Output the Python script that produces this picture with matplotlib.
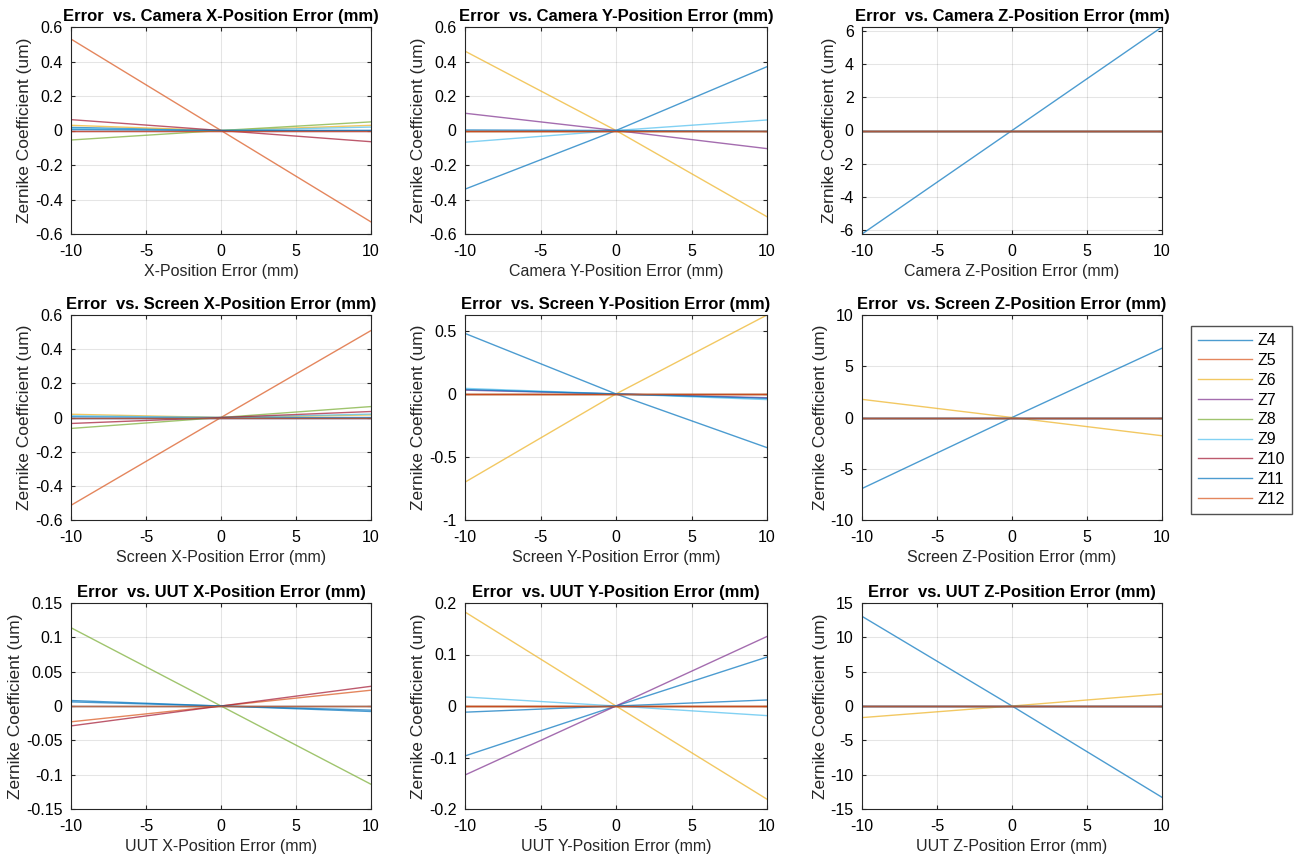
import matplotlib
matplotlib.use("Agg")
import matplotlib.pyplot as plt
import numpy as np
from matplotlib.ticker import FuncFormatter

plt.rcParams["font.family"] = ["Liberation Sans", "DejaVu Sans"]
plt.rcParams["axes.unicode_minus"] = False

# position error sweep (mm)
x = [-10, 0, 10]
names = ["Z4", "Z5", "Z6", "Z7", "Z8", "Z9", "Z10", "Z11", "Z12"]

# coefficient (um) at x = -10 and x = +10, order Z4..Z12 (all pass through 0 at x = 0)
cam_x_lo = [0.018, 0.53, 0.03, 0.0, -0.055, 0.012, 0.063, 0.005, 0.0]
cam_x_hi = [0.0, -0.53, 0.03, 0.0, 0.05, 0.02, -0.065, 0.0, 0.0]
cam_y_lo = [-0.34, 0.0, 0.46, 0.10, 0.0, -0.068, 0.0, 0.003, 0.0]
cam_y_hi = [0.37, 0.0, -0.50, -0.105, 0.0, 0.061, 0.0, -0.005, 0.0]
cam_z_lo = [-6.25, 0.0, 0.0, 0.0, 0.0, 0.0, 0.0, 0.0, 0.0]
cam_z_hi = [6.25, 0.0, 0.0, 0.0, 0.0, 0.0, 0.0, 0.0, 0.0]
scr_x_lo = [0.005, -0.514, 0.019, 0.0, -0.064, 0.01, -0.035, 0.0, 0.0]
scr_x_hi = [0.0, 0.509, 0.015, 0.0, 0.064, 0.02, 0.035, 0.0, 0.0]
scr_y_lo = [0.48, 0.0, -0.70, 0.03, 0.0, 0.044, 0.0, 0.035, 0.0]
scr_y_hi = [-0.426, 0.0, 0.626, -0.03, 0.0, -0.045, 0.0, -0.035, 0.0]
scr_z_lo = [-6.93, 0.0, 1.77, 0.0, 0.0, 0.0, 0.0, 0.0, 0.0]
scr_z_hi = [6.76, 0.0, -1.78, 0.0, 0.0, 0.0, 0.0, 0.0, 0.0]
uut_x_lo = [0.008, -0.023, 0.0, 0.0, 0.114, 0.0, -0.029, 0.006, 0.0]
uut_x_hi = [-0.008, 0.023, 0.0, 0.0, -0.114, 0.0, 0.0287, -0.006, 0.0]
uut_y_lo = [-0.097, 0.0, 0.1825, -0.134, 0.0, 0.0175, 0.0, -0.012, 0.0]
uut_y_hi = [0.095, 0.0, -0.181, 0.135, 0.0, -0.0187, 0.0, 0.0117, 0.0]
uut_z_lo = [13.06, 0.0, -1.69, 0.0, 0.0, 0.0, 0.0, 0.0, 0.0]
uut_z_hi = [-13.3, 0.0, 1.75, 0.0, 0.0, 0.0, 0.0, 0.0, 0.0]

titles = ["Error  vs. Camera X-Position Error (mm)", "Error  vs. Camera Y-Position Error (mm)",
          "Error  vs. Camera Z-Position Error (mm)", "Error  vs. Screen X-Position Error (mm)",
          "Error  vs. Screen Y-Position Error (mm)", "Error  vs. Screen Z-Position Error (mm)",
          "Error  vs. UUT X-Position Error (mm)", "Error  vs. UUT Y-Position Error (mm)",
          "Error  vs. UUT Z-Position Error (mm)"]
xlabels = ["X-Position Error (mm)", "Camera Y-Position Error (mm)", "Camera Z-Position Error (mm)",
           "Screen X-Position Error (mm)", "Screen Y-Position Error (mm)", "Screen Z-Position Error (mm)",
           "UUT X-Position Error (mm)", "UUT Y-Position Error (mm)", "UUT Z-Position Error (mm)"]
ylims = [(-0.6, 0.6), (-0.6, 0.6), (-6.25, 6.25), (-0.6, 0.6), (-1, 0.626),
         (-10, 10), (-0.15, 0.15), (-0.2, 0.2), (-15, 15)]
ysteps = [0.2, 0.2, 2, 0.2, 0.5, 5, 0.05, 0.1, 5]

panels = [(cam_x_lo, cam_x_hi), (cam_y_lo, cam_y_hi), (cam_z_lo, cam_z_hi),
          (scr_x_lo, scr_x_hi), (scr_y_lo, scr_y_hi), (scr_z_lo, scr_z_hi),
          (uut_x_lo, uut_x_hi), (uut_y_lo, uut_y_hi), (uut_z_lo, uut_z_hi)]

# MATLAB default line colour order (cycles after 7)
colors = ["#0072BD", "#D95319", "#EDB120", "#7E2F8E", "#77AC30", "#4DBEEE", "#A2142F",
          "#0072BD", "#D95319"]

W, H = 1294, 858
fig = plt.figure(figsize=(W / 100, H / 100), dpi=100)

col_px = [(71, 300), (465, 302), (862, 300)]
row_px = [(27, 234), (315, 520), (603, 809)]
FS = 11.5

fmt = FuncFormatter(lambda v, p: ("%g" % round(v, 6)))
handles = []
for i, (lo, hi) in enumerate(panels):
    r, c = divmod(i, 3)
    left, width = col_px[c]
    top, bottom = row_px[r]
    ax = fig.add_axes([left / W, (H - bottom) / H, width / W, (bottom - top) / H])
    for k in range(len(names)):
        ln, = ax.plot(x, [lo[k], 0.0, hi[k]], color=colors[k], lw=1.0, alpha=0.7,
                      label=names[k])
        if i == 0:
            handles.append(ln)
    y0, y1 = ylims[i]
    s = ysteps[i]
    ticks = np.arange(np.ceil(y0 / s - 1e-6), np.floor(y1 / s + 1e-6) + 1) * s
    ax.set_xlim(-10, 10)
    ax.set_ylim(y0, y1)
    ax.set_yticks(ticks)
    ax.set_xticks([-10, -5, 0, 5, 10])
    ax.yaxis.set_major_formatter(fmt)
    ax.grid(True, color="#000000", alpha=0.1, lw=0.8)
    ax.tick_params(direction="in", top=True, right=True, labelsize=FS, length=3,
                   color="#262626", width=0.8)
    ax.tick_params(axis="x", pad=7)
    ax.tick_params(axis="y", pad=6)
    for sp in ax.spines.values():
        sp.set_color("#262626")
        sp.set_linewidth(0.8)
    ax.set_title(titles[i], fontsize=12, fontweight="bold", pad=4)
    ax.set_xlabel(xlabels[i], fontsize=FS, color="#262626", labelpad=4)
    ax.set_ylabel("Zernike Coefficient (um)", fontsize=12.5, color="#262626", labelpad=2)

fig.legend(handles=handles, labels=names, loc="upper left",
           bbox_to_anchor=(1191 / W, 1 - 326 / H), fontsize=FS, frameon=True,
           fancybox=False, edgecolor="#262626", handlelength=3.4, borderpad=0.45,
           labelspacing=0.3, handletextpad=0.3, borderaxespad=0.0)

fig.savefig("out.png", dpi=100)
